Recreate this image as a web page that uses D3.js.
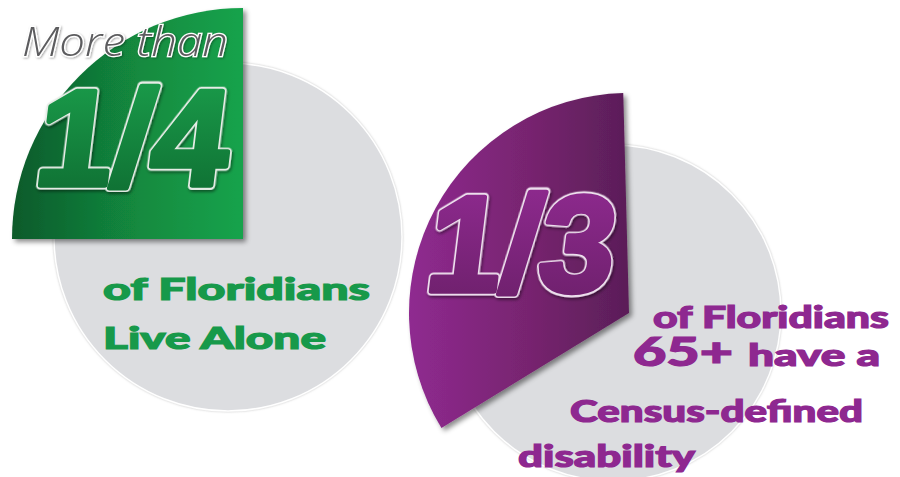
<!DOCTYPE html>
<html>
<head>
<meta charset="utf-8">
<script src="https://cdn.jsdelivr.net/npm/d3@7"></script>
<style>
  html, body { margin: 0; padding: 0; background: #ffffff; }
  svg { display: block; }
</style>
</head>
<body>
<svg id="chart" width="900" height="477"></svg>
<script>
// ---- data ----
const panelNames   = ["Live alone", "65+ with a disability"];
const shareValues  = [1 / 4, 1 / 3];
const bigLabels    = ["1/4", "1/3"];
const leadLabels   = ["More than", ""];
const captionLeft  = ["of Floridians", "Live Alone"];
const captionRight = ["of Floridians", "65+", "have a", "Census-defined", "disability"];

// ---- layout ----
const svg = d3.select("#chart");
const defs = svg.append("defs");

const angle = d3.scaleLinear().domain([0, 1]).range([0, 2 * Math.PI]);
const deg = Math.PI / 180;

const panels = [
  { circle: { cx: 228, cy: 237, r: 174 }, wedge: { cx: 243, cy: 239, r: 231 }, rot: 0,
    grad: ["#0f5a2b", "#128a3f", "#17a34c"], textGrad: ["#1ba14d", "#0e6a30"],
    textColor: "#17994a", outline: "#e6ece6" },
  { circle: { cx: 613, cy: 313, r: 168 }, wedge: { cx: 629, cy: 313, r: 220 }, rot: -1.5 * deg,
    grad: ["#8f2a90", "#77246f", "#5a1e58"], textGrad: ["#922b93", "#6a1f68"],
    textColor: "#8e2890", outline: "#eddfed" }
];

// filters
const sh = defs.append("filter").attr("id", "wedgeShadow")
  .attr("x", "-20%").attr("y", "-20%").attr("width", "140%").attr("height", "140%");
sh.append("feDropShadow").attr("dx", 3).attr("dy", 3).attr("stdDeviation", 2.5)
  .attr("flood-color", "#000").attr("flood-opacity", 0.45);

const cs = defs.append("filter").attr("id", "circleShadow")
  .attr("x", "-10%").attr("y", "-10%").attr("width", "120%").attr("height", "120%");
cs.append("feDropShadow").attr("dx", 0).attr("dy", 0).attr("stdDeviation", 1.2)
  .attr("flood-color", "#9a9a9a").attr("flood-opacity", 0.6);

const ts = defs.append("filter").attr("id", "textShadow")
  .attr("x", "-10%").attr("y", "-10%").attr("width", "120%").attr("height", "130%");
ts.append("feDropShadow").attr("dx", 1.5).attr("dy", 2).attr("stdDeviation", 1.5)
  .attr("flood-color", "#000").attr("flood-opacity", 0.45);

const ls = defs.append("filter").attr("id", "leadShadow")
  .attr("x", "-10%").attr("y", "-20%").attr("width", "120%").attr("height", "140%");
ls.append("feDropShadow").attr("dx", 1).attr("dy", 1).attr("stdDeviation", 1)
  .attr("flood-color", "#000").attr("flood-opacity", 0.35);

const arc = d3.arc().innerRadius(0);

panels.forEach((p, i) => {
  const g = defs.append("linearGradient").attr("id", "wg" + i)
    .attr("gradientUnits", "userSpaceOnUse")
    .attr("x1", -p.wedge.r).attr("y1", 0)
    .attr("x2", 0).attr("y2", 0);
  g.append("stop").attr("offset", "0%").attr("stop-color", p.grad[0]);
  g.append("stop").attr("offset", "55%").attr("stop-color", p.grad[1]);
  g.append("stop").attr("offset", "100%").attr("stop-color", p.grad[2]);

  const tg = defs.append("linearGradient").attr("id", "tg" + i)
    .attr("x1", 0).attr("y1", 0).attr("x2", 0).attr("y2", 1);
  tg.append("stop").attr("offset", "0%").attr("stop-color", p.textGrad[0]);
  tg.append("stop").attr("offset", "100%").attr("stop-color", p.textGrad[1]);
});

// gray background circles
panels.forEach((p) => {
  svg.append("path")
    .attr("transform", `translate(${p.circle.cx},${p.circle.cy})`)
    .attr("d", arc({ outerRadius: p.circle.r, startAngle: 0, endAngle: 2 * Math.PI }))
    .attr("fill", "#dcdde0")
    .attr("stroke", "#ffffff").attr("stroke-width", 1.5)
    .attr("filter", "url(#circleShadow)");
});

// share wedges
panels.forEach((p, i) => {
  const a = angle(shareValues[i]);
  svg.append("path")
    .attr("class", "wedge")
    .attr("data-name", panelNames[i])
    .attr("transform", `translate(${p.wedge.cx},${p.wedge.cy})`)
    .attr("d", arc({ outerRadius: p.wedge.r, startAngle: -a + p.rot, endAngle: p.rot }))
    .attr("fill", `url(#wg${i})`)
    .attr("filter", "url(#wedgeShadow)");
});

// "More than"
svg.append("text")
  .attr("x", 22).attr("y", 56)
  .attr("font-family", "'Open Sans', 'Liberation Sans', sans-serif")
  .attr("font-style", "italic").attr("font-weight", 300)
  .attr("font-size", 40)
  .attr("textLength", 206).attr("lengthAdjust", "spacingAndGlyphs")
  .attr("fill", "#5c5c5e")
  .attr("stroke", "#ffffff").attr("stroke-width", 2.5)
  .attr("paint-order", "stroke")
  .attr("filter", "url(#leadShadow)")
  .text(leadLabels[0]);

// big fractions (heavy, lightly sheared, light outline)
const bigPos = [
  { x: 32, y: 185, len: 192 },
  { x: 423, y: 291, len: 187 }
];
bigLabels.forEach((lab, i) => {
  const g = svg.append("g")
    .attr("transform", `translate(${bigPos[i].x},${bigPos[i].y}) skewX(-7)`);
  const base = (sel) => sel
    .attr("x", 0).attr("y", 0)
    .attr("font-family", "'Liberation Sans', Arial, sans-serif")
    .attr("font-weight", 700)
    .attr("font-size", 136)
    .attr("textLength", bigPos[i].len).attr("lengthAdjust", "spacingAndGlyphs")
    .text(lab);
  g.append("text").call(base)
    .attr("fill", panels[i].outline)
    .attr("stroke", panels[i].outline).attr("stroke-width", 9)
    .attr("stroke-linejoin", "round")
    .attr("filter", "url(#textShadow)");
  g.append("text").call(base)
    .attr("fill", `url(#tg${i})`)
    .attr("stroke", `url(#tg${i})`).attr("stroke-width", 5.5)
    .attr("stroke-linejoin", "round");
});

// captions
const capFont = "Lato, 'Open Sans', 'DejaVu Sans', sans-serif";
const leftCaps = [
  { t: captionLeft[0], x: 103, y: 300, len: 267, fs: 31 },
  { t: captionLeft[1], x: 103, y: 349, len: 223, fs: 31 }
];
leftCaps.forEach(c => {
  svg.append("text").attr("x", c.x).attr("y", c.y)
    .attr("font-family", capFont).attr("font-weight", 900)
    .attr("font-size", c.fs)
    .attr("textLength", c.len).attr("lengthAdjust", "spacingAndGlyphs")
    .attr("fill", panels[0].textColor)
    .attr("stroke", panels[0].textColor).attr("stroke-width", 1.2)
    .text(c.t);
});

const rightCaps = [
  { t: captionRight[0], x: 653, y: 328, len: 236, fs: 30 },
  { t: captionRight[1], x: 633, y: 366, len: 100, fs: 39 },
  { t: captionRight[2], x: 748, y: 366, len: 132, fs: 31 },
  { t: captionRight[3], x: 570, y: 422, len: 293, fs: 31 },
  { t: captionRight[4], x: 518, y: 467, len: 177, fs: 31 }
];
rightCaps.forEach(c => {
  svg.append("text").attr("x", c.x).attr("y", c.y)
    .attr("font-family", capFont).attr("font-weight", 900)
    .attr("font-size", c.fs)
    .attr("textLength", c.len).attr("lengthAdjust", "spacingAndGlyphs")
    .attr("fill", panels[1].textColor)
    .attr("stroke", panels[1].textColor).attr("stroke-width", 1.2)
    .text(c.t);
});
</script>
</body>
</html>
